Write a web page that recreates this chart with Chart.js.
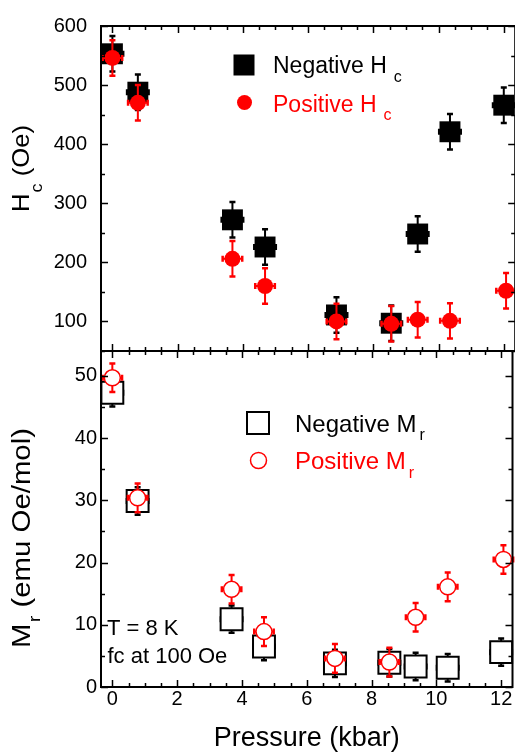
<!DOCTYPE html>
<html><head><meta charset="utf-8">
<script src="https://cdn.jsdelivr.net/npm/chart.js@4/dist/chart.umd.min.js"></script>
<style>
html,body{margin:0;padding:0;background:#fff;overflow:hidden;width:515px;height:756px;}
#wrap{position:relative;width:515px;height:756px;overflow:hidden;background:#fff;}
canvas{position:absolute;left:0;top:0;}
</style></head><body>
<div id="wrap"><canvas id="cTop" width="530" height="756"></canvas><canvas id="cBot" width="530" height="756"></canvas></div>
<script>
// ---- data ----
const pressureNeg = [0, 0.78, 3.68, 4.68, 6.87, 8.55, 9.36, 10.35, 12.0];
const pressurePos = [0, 0.78, 3.68, 4.68, 6.87, 8.55, 9.36, 10.35, 12.07];
const pressureErrNeg = [0.33, 0.33, 0.33, 0.33, 0.33, 0.33, 0.33, 0.33, 0.33];
const pressureErrPos = [0.3, 0.3, 0.3, 0.3, 0.3, 0.3, 0.3, 0.3, 0.3];
const hcNeg = [553, 488, 272, 226, 111, 97, 248, 421, 466];
const hcNegErr = [30, 30, 30, 30, 30, 30, 30, 30, 30];
const hcPos = [546, 470, 206, 160, 100, 96, 103, 101, 152];
const hcPosErr = [30, 30, 30, 30, 30, 30, 30, 30, 30];
const mrNeg = [47.3, 29.9, 10.9, 6.5, 3.8, 3.9, 3.3, 3.1, 5.6];
const mrNegErr = [2.2, 2.2, 2.2, 2.2, 2.2, 2.2, 2.2, 2.2, 2.2];
const mrPos = [49.7, 30.4, 15.7, 8.9, 4.6, 4.0, 11.2, 16.1, 20.5];
const mrPosErr = [2.3, 2.3, 2.3, 2.3, 2.3, 2.3, 2.3, 2.3, 2.3];
const pressureTicks = [0, 2, 4, 6, 8, 10, 12];
const hcTicks = [100, 200, 300, 400, 500, 600];
const mrTicks = [0, 10, 20, 30, 40, 50];

const FAM = '"Liberation Sans", Arial, Helvetica, sans-serif';
const RED = '#ff0000', BLK = '#000000';
Chart.defaults.font.family = FAM;
Chart.defaults.color = '#000';

function pts(xs, ys) { return xs.map((x, i) => ({x: x, y: ys[i]})); }

function drawErrors(chart, ds) {
  const ctx = chart.ctx, xs = chart.scales.x, ys = chart.scales.y;
  ctx.save();
  ctx.strokeStyle = ds.errColor;
  ds.data.forEach((p, i) => {
    const x = xs.getPixelForValue(p.x), y = ys.getPixelForValue(p.y);
    const y1 = ys.getPixelForValue(p.y - ds.errY[i]), y2 = ys.getPixelForValue(p.y + ds.errY[i]);
    const x1 = xs.getPixelForValue(p.x - ds.errX[i]), x2 = xs.getPixelForValue(p.x + ds.errX[i]);
    ctx.lineWidth = 2;
    ctx.beginPath();
    ctx.moveTo(x, y1); ctx.lineTo(x, y2);
    ctx.moveTo(x1, y); ctx.lineTo(x2, y);
    ctx.stroke();
    ctx.lineWidth = 2.5;
    ctx.beginPath();
    ctx.moveTo(x - 3, y1); ctx.lineTo(x + 3, y1);
    ctx.moveTo(x - 3, y2); ctx.lineTo(x + 3, y2);
    ctx.moveTo(x1, y - 3); ctx.lineTo(x1, y + 3);
    ctx.moveTo(x2, y - 3); ctx.lineTo(x2, y + 3);
    ctx.stroke();
  });
  ctx.restore();
}

function drawFrameTicks(chart, yMinorStep) {
  const ctx = chart.ctx, a = chart.chartArea, xs = chart.scales.x, ys = chart.scales.y;
  ctx.save();
  ctx.strokeStyle = '#000';
  ctx.lineWidth = 2;
  ctx.strokeRect(a.left, a.top, a.right - a.left, a.bottom - a.top);
  ctx.lineWidth = 1.5;
  ctx.beginPath();
  const xStep = (pressureTicks[1] - pressureTicks[0]) / 4;
  for (let v = pressureTicks[0]; v <= xs.max + 1e-9; v += xStep) {
    const major = Math.abs(v / 2 - Math.round(v / 2)) < 1e-6;
    const L = major ? 7 : 4;
    const px = Math.round(xs.getPixelForValue(v)) + 0.5;
    ctx.moveTo(px, a.top); ctx.lineTo(px, a.top + L);
    ctx.moveTo(px, a.bottom); ctx.lineTo(px, a.bottom - L);
  }
  const yt = ys.ticks.map(t => t.value);
  const majStep = yt[1] - yt[0];
  for (let v = ys.min; v <= ys.max + 1e-9; v += yMinorStep) {
    const major = Math.abs(v / majStep - Math.round(v / majStep)) < 1e-6;
    const L = major ? 7 : 4;
    const py = Math.round(ys.getPixelForValue(v)) + 0.5;
    ctx.moveTo(a.left, py); ctx.lineTo(a.left + L, py);
    ctx.moveTo(a.right, py); ctx.lineTo(a.right - L, py);
  }
  ctx.stroke();
  ctx.restore();
}

function drawRich(ctx, x, y, parts) {
  let cx = x;
  parts.forEach(p => {
    ctx.font = p.size + 'px ' + FAM;
    cx += (p.gap || 0);
    ctx.fillText(p.t, cx, y + (p.dy || 0));
    cx += ctx.measureText(p.t).width;
  });
}
function richWidth(ctx, parts) {
  let w = 0;
  parts.forEach(p => { ctx.font = p.size + 'px ' + FAM; w += (p.gap || 0) + ctx.measureText(p.t).width; });
  return w;
}
function drawRotTitle(ctx, baseX, centerY, parts, targetLen) {
  ctx.save();
  const w = richWidth(ctx, parts);
  const s = targetLen / w;
  ctx.translate(baseX, centerY);
  ctx.rotate(-Math.PI / 2);
  ctx.scale(s, 1);
  ctx.fillStyle = '#000';
  ctx.textBaseline = 'alphabetic';
  ctx.textAlign = 'left';
  drawRich(ctx, -w / 2, 0, parts);
  ctx.restore();
}

const errPlugin = {
  id: 'errbars',
  beforeDatasetDraw(chart, args) {
    drawErrors(chart, chart.data.datasets[args.index]);
  }
};

const topPlugin = {
  id: 'topDecor',
  afterDraw(chart) {
    const ctx = chart.ctx;
    drawFrameTicks(chart, 50);
    const d0 = chart.data.datasets[0], d1 = chart.data.datasets[1];
    ctx.save();
    ctx.fillStyle = d0.backgroundColor;
    ctx.fillRect(233.5, 54.5, 21, 21);
    ctx.beginPath();
    ctx.fillStyle = d1.backgroundColor;
    ctx.arc(244.5, 102.5, 7.5, 0, Math.PI * 2); ctx.fill();
    ctx.textBaseline = 'alphabetic'; ctx.textAlign = 'left';
    ctx.fillStyle = BLK;
    drawRich(ctx, 273, 73.3, [{t: 'Negative H', size: 23}, {t: 'c', size: 16, dy: 8.7, gap: 7}]);
    ctx.fillStyle = RED;
    drawRich(ctx, 273, 111.7, [{t: 'Positive H', size: 23}, {t: 'c', size: 16, dy: 8.5, gap: 7}]);
    ctx.restore();
    drawRotTitle(ctx, 28.5, 168.5, [{t: 'H', size: 24}, {t: 'c', size: 17, dy: 13, gap: 1}, {t: ' (Oe)', size: 24}], 87);
  }
};

const botPlugin = {
  id: 'botDecor',
  afterDraw(chart) {
    const ctx = chart.ctx;
    drawFrameTicks(chart, 5);
    ctx.save();
    ctx.lineWidth = 2; ctx.strokeStyle = BLK; ctx.fillStyle = '#fff';
    ctx.beginPath(); ctx.rect(247, 412, 22, 22); ctx.fill(); ctx.stroke();
    ctx.lineWidth = 1.5; ctx.strokeStyle = RED;
    ctx.beginPath(); ctx.arc(258.5, 460.5, 8, 0, Math.PI * 2); ctx.fill(); ctx.stroke();
    ctx.textBaseline = 'alphabetic'; ctx.textAlign = 'left';
    ctx.fillStyle = BLK;
    drawRich(ctx, 295, 431.7, [{t: 'Negative M', size: 24}, {t: 'r', size: 16, dy: 8.5, gap: 3}]);
    ctx.fillStyle = RED;
    drawRich(ctx, 295, 469.3, [{t: 'Positive M', size: 24}, {t: 'r', size: 16, dy: 8.5, gap: 3}]);
    ctx.fillStyle = BLK;
    ctx.font = '22px ' + FAM;
    ctx.fillText('T = 8 K', 107, 635);
    ctx.fillText('fc at 100 Oe', 107.5, 662.7);
    ctx.restore();
    drawRotTitle(ctx, 30, 538, [{t: 'M', size: 25}, {t: 'r', size: 17, dy: 10, gap: 1}, {t: ' (emu Oe/mol)', size: 25}], 220);
  }
};

const tickFont = {family: FAM, size: 20};
const noGrid = {display: false, drawTicks: false};

new Chart(document.getElementById('cTop'), {
  type: 'scatter',
  data: {datasets: [
    {data: pts(pressureNeg, hcNeg), errY: hcNegErr, errX: pressureErrNeg, errColor: BLK, order: 2,
     pointStyle: 'rect', pointRadius: 14.8, backgroundColor: BLK, borderColor: BLK, borderWidth: 0, clip: false},
    {data: pts(pressurePos, hcPos), errY: hcPosErr, errX: pressureErrPos, errColor: RED, order: 1,
     pointStyle: 'circle', pointRadius: 8, backgroundColor: RED, borderColor: RED, borderWidth: 0, clip: false}
  ]},
  options: {
    responsive: false, animation: false, events: [],
    layout: {padding: {top: 13, right: 13, left: 0, bottom: 0}},
    plugins: {legend: {display: false}, tooltip: {enabled: false}},
    scales: {
      x: {type: 'linear', min: -0.35, max: 12.35, ticks: {display: false}, grid: noGrid, border: {display: false},
          afterBuildTicks(s) { s.ticks = pressureTicks.map(v => ({value: v})); },
          afterFit(s) { s.height = 405; }},
      y: {type: 'linear', min: 50, max: 600, ticks: {font: tickFont, color: '#000', padding: 14},
          grid: noGrid, border: {display: false},
          afterBuildTicks(s) { s.ticks = hcTicks.map(v => ({value: v})); },
          afterFit(s) { s.width = 101; }}
    }
  },
  plugins: [errPlugin, topPlugin]
});

new Chart(document.getElementById('cBot'), {
  type: 'scatter',
  data: {datasets: [
    {data: pts(pressureNeg, mrNeg), errY: mrNegErr, errX: pressureErrNeg, errColor: BLK, order: 2,
     pointStyle: 'rect', pointRadius: 15.5, backgroundColor: '#fff', borderColor: BLK, borderWidth: 2, clip: false},
    {data: pts(pressurePos, mrPos), errY: mrPosErr, errX: pressureErrPos, errColor: RED, order: 1,
     pointStyle: 'circle', pointRadius: 8, backgroundColor: '#fff', borderColor: RED, borderWidth: 1.5, clip: false}
  ]},
  options: {
    responsive: false, animation: false, events: [],
    layout: {padding: {top: 351, right: 13, left: 0, bottom: 0}},
    plugins: {legend: {display: false}, tooltip: {enabled: false}},
    scales: {
      x: {type: 'linear', min: -0.35, max: 12.35,
          ticks: {font: tickFont, color: '#000', padding: 0, maxRotation: 0},
          title: {display: true, text: 'Pressure (kbar)', color: '#000', font: {family: FAM, size: 27}, padding: {top: 0, bottom: 1}},
          grid: noGrid, border: {display: false},
          afterBuildTicks(s) { s.ticks = pressureTicks.map(v => ({value: v})); },
          afterFit(s) { s.height = 69; }},
      y: {type: 'linear', min: 0, max: 54, ticks: {font: tickFont, color: '#000', padding: 4},
          grid: noGrid, border: {display: false},
          afterBuildTicks(s) { s.ticks = mrTicks.map(v => ({value: v})); },
          afterFit(s) { s.width = 101; }}
    }
  },
  plugins: [errPlugin, botPlugin]
});
</script>
</body></html>
